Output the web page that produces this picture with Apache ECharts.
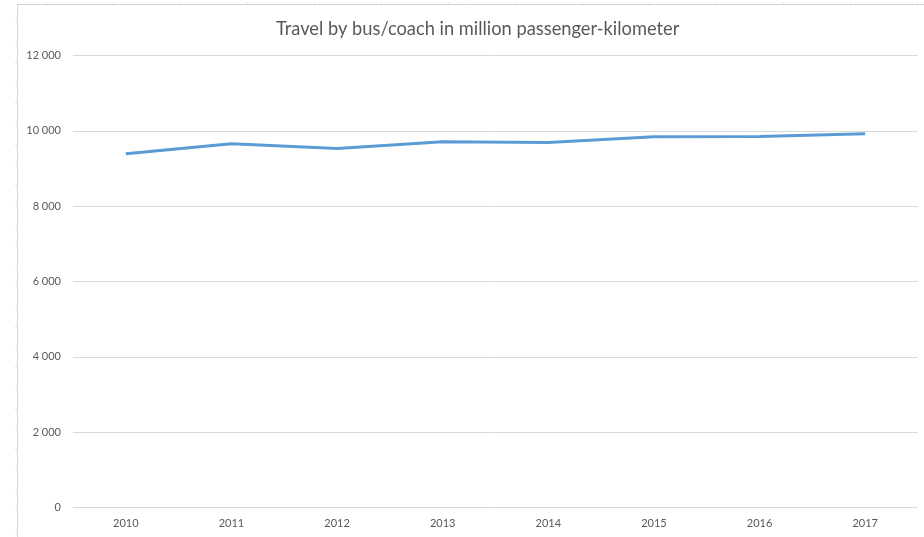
<!DOCTYPE html>
<html><head><meta charset="utf-8">
<script src="https://cdn.jsdelivr.net/npm/echarts@6/dist/echarts.min.js"></script>
<style>html,body{margin:0;padding:0;background:#fff}#c{width:924px;height:537px}</style>
</head><body><div id="c"></div>
<script>
const titleText = 'Travel by bus/coach in million passenger-kilometer';
const years = ['2010','2011','2012','2013','2014','2015','2016','2017'];
const travel = [9390, 9660, 9530, 9710, 9690, 9840, 9850, 9920];

const chart = echarts.init(document.getElementById('c'), null, {renderer:'canvas'});
const fmt = v => String(v).replace(/\B(?=(\d{3})+(?!\d))/g, ' ');
const deco = [
  {type:'line',shape:{x1:17.5,y1:4.5,x2:17.5,y2:537},style:{stroke:'#d4d4d4',lineWidth:1}},
  {type:'line',shape:{x1:17.5,y1:4.5,x2:924,y2:4.5},style:{stroke:'#d4d4d4',lineWidth:1}}
];
for (let y = 22; y < 537; y += 20.3) deco.push({type:'line',shape:{x1:15,y1:Math.round(y)+0.5,x2:17,y2:Math.round(y)+0.5},style:{stroke:'#e4e4e4',lineWidth:1}});
for (let x = 46; x < 924; x += 67) deco.push({type:'line',shape:{x1:x+0.5,y1:2,x2:x+0.5,y2:4},style:{stroke:'#e4e4e4',lineWidth:1}});
chart.setOption({
  animation:false,
  backgroundColor:'#fff',
  title:{text:titleText,left:271,top:15,textStyle:{fontFamily:'Lato',fontSize:18.3,fontWeight:'normal',color:'#595959'}},
  grid:{left:73,right:6,top:55.5,bottom:29.5,containLabel:false},
  xAxis:{type:'category',data:years,boundaryGap:true,
    axisLine:{show:false},axisTick:{show:false},
    axisLabel:{color:'#595959',fontFamily:'Lato',fontSize:11,margin:10}},
  yAxis:{type:'value',min:0,max:12000,interval:2000,
    axisLine:{show:false},axisTick:{show:false},
    axisLabel:{color:'#595959',fontFamily:'Lato',fontSize:11,margin:12,formatter:fmt},
    splitLine:{lineStyle:{color:'#d9d9d9',width:1}}},
  series:[{type:'line',data:travel,symbol:'none',lineStyle:{color:'#5b9bd5',width:3},itemStyle:{color:'#5b9bd5'}}],
  graphic:deco
});
</script></body></html>
